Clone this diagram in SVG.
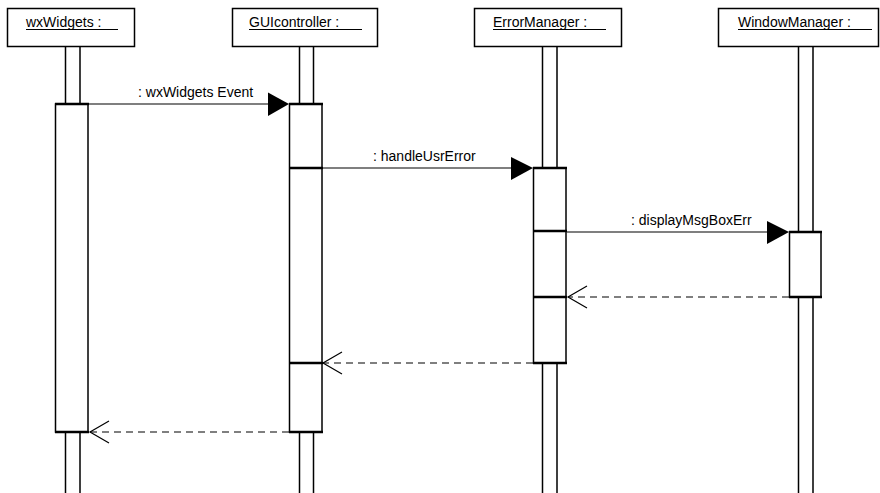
<svg xmlns="http://www.w3.org/2000/svg" width="880" height="493" viewBox="0 0 880 493">
<style>
.box{fill:#fff;stroke:#000;stroke-width:1.5}
.col{fill:none;stroke:#000;stroke-width:1.5}
.act{fill:#fff;stroke:#000;stroke-width:1.5}
.thick{stroke:#000;stroke-width:2.5}
.t{font-family:"Liberation Sans",Arial,sans-serif;font-size:14px;fill:#000}
.ul{stroke:#000;stroke-width:1}
.msg{stroke:#000;stroke-width:1.2;fill:none}
.ret{stroke:#000;stroke-width:1.2;fill:none;stroke-dasharray:7 5}
.open{stroke:#000;stroke-width:1.2;fill:none}
</style>
<rect width="880" height="493" fill="#fff"/>
<g id="wxWidgets">
<rect class="box" x="7.5" y="8.5" width="127" height="38"/>
<text class="t" x="26" y="27">wxWidgets :</text>
<line class="ul" x1="26" y1="29.5" x2="118" y2="29.5"/>
<path class="col" d="M65.5 47V104 M80 47V104 M65.5 432V493 M80 432V493"/>
<rect class="act" x="55.5" y="104" width="32.5" height="328"/>
<line class="thick" x1="55" y1="104" x2="89" y2="104"/>
<line class="thick" x1="55" y1="432" x2="89" y2="432"/>
</g>
<g id="GUIcontroller">
<rect class="box" x="232.5" y="8.5" width="145" height="38"/>
<text class="t" x="249" y="27">GUIcontroller :</text>
<line class="ul" x1="249" y1="29.5" x2="362" y2="29.5"/>
<path class="col" d="M299.5 47V104 M313.5 47V104 M299.5 432V493 M313.5 432V493"/>
<rect class="act" x="289.5" y="104" width="32.5" height="328"/>
<line class="thick" x1="289" y1="104" x2="323" y2="104"/>
<line class="thick" x1="289" y1="168" x2="323" y2="168"/>
<line class="thick" x1="289" y1="363" x2="323" y2="363"/>
<line class="thick" x1="289" y1="432" x2="323" y2="432"/>
</g>
<g id="ErrorManager">
<rect class="box" x="474.5" y="8.5" width="147" height="38"/>
<text class="t" x="493" y="27">ErrorManager :</text>
<line class="ul" x1="493" y1="29.5" x2="606" y2="29.5"/>
<path class="col" d="M542.5 47V168 M557 47V168 M542.5 363V493 M557 363V493"/>
<rect class="act" x="533.5" y="168" width="32.5" height="195"/>
<line class="thick" x1="533" y1="168" x2="567" y2="168"/>
<line class="thick" x1="533" y1="231" x2="567" y2="231"/>
<line class="thick" x1="533" y1="297" x2="567" y2="297"/>
<line class="thick" x1="533" y1="363" x2="567" y2="363"/>
</g>
<g id="WindowManager">
<rect class="box" x="718.5" y="8.5" width="160" height="38"/>
<text class="t" x="738" y="27">WindowManager :</text>
<line class="ul" x1="738" y1="29.5" x2="872" y2="29.5"/>
<path class="col" d="M798.5 47V232 M813 47V232 M798.5 297V493 M813 297V493"/>
<rect class="act" x="789.5" y="232" width="31.5" height="65"/>
<line class="thick" x1="789" y1="232" x2="822" y2="232"/>
<line class="thick" x1="789" y1="297" x2="822" y2="297"/>
</g>
<g id="connectors">
<line class="msg" x1="89" y1="104" x2="270" y2="104"/>
<polygon points="268,92.5 289,104 268,116" fill="#000"/>
<text class="t" x="138" y="97">: wxWidgets Event</text>
<line class="msg" x1="323" y1="168" x2="513" y2="168"/>
<polygon points="511,157 533,168 511,180" fill="#000"/>
<text class="t" x="373" y="161">: handleUsrError</text>
<line class="msg" x1="567" y1="232" x2="769" y2="232"/>
<polygon points="767,221 789,232 767,244" fill="#000"/>
<text class="t" x="631" y="225">: displayMsgBoxErr</text>
<line class="ret" x1="789" y1="297" x2="568" y2="297"/>
<path class="open" d="M587 286 L568 297 L587 308"/>
<line class="ret" x1="533" y1="363" x2="323" y2="363"/>
<path class="open" d="M342 352 L323 363 L342 374"/>
<line class="ret" x1="289" y1="432" x2="90" y2="432"/>
<path class="open" d="M109 421 L90 432 L109 443"/>
</g>
</svg>
